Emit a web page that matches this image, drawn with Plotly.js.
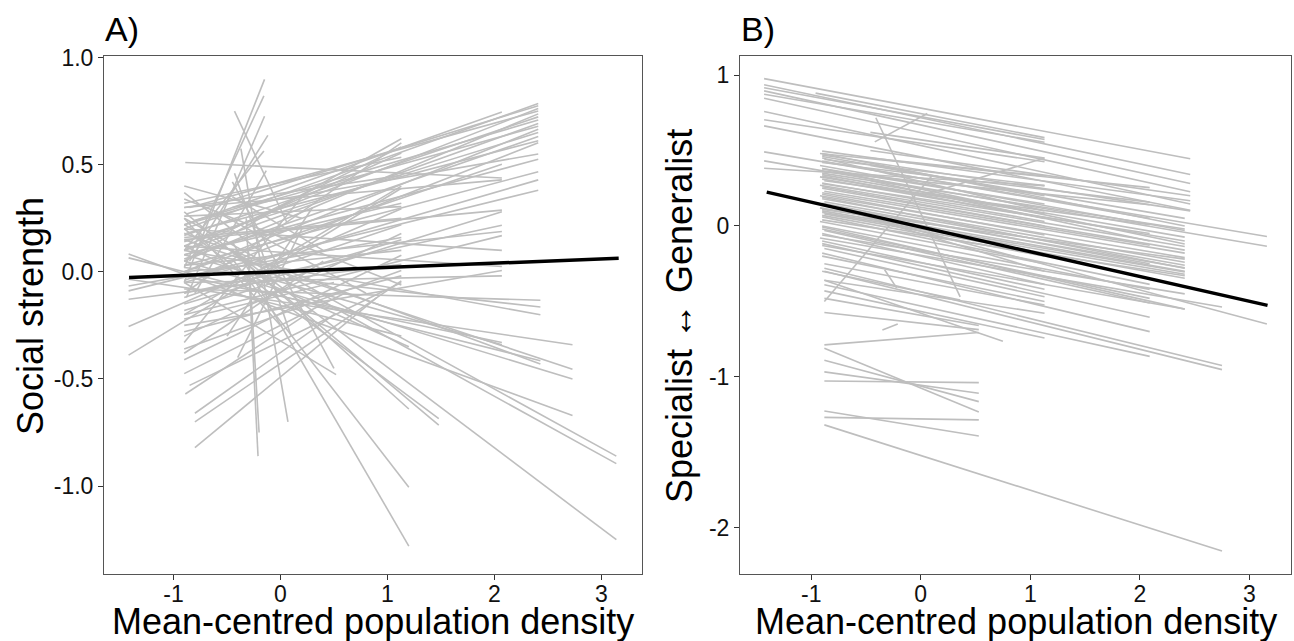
<!DOCTYPE html>
<html>
<head>
<meta charset="utf-8">
<script src="https://cdn.plot.ly/plotly-3.0.1.min.js"></script>
<style>html,body{margin:0;padding:0;background:#fff;}#chart{width:1294px;height:641px;}</style>
</head>
<body>
<div id="chart"></div>
<script>
// ---------- Panel A: individual slopes (start x, start y, end x, end y) ----------
const aX0 = [-0.90,-0.88,-0.90,-0.85,-0.90,-0.90,-0.80,-0.90,-0.90,-0.90,-0.90,-0.90,-0.88,-0.90,-0.90,-0.90,-0.90,-1.42,
  -0.90,-0.89,-0.90,-0.90,-0.90,-0.90,-0.90,-0.90,-0.90,-0.90,-0.90,-0.90,-0.90,
  -0.90,-0.90,-0.90,-1.42,-0.90,-1.42,-0.90,-0.90,-1.42,-0.90,-0.90,-0.45,
  -0.90,-0.90,-0.45,-0.90,-0.90,-0.90,-1.42,-0.90,-1.42,-0.90,-1.42,-0.90,-0.90,-1.42,-0.90,-0.90,-0.80,-0.90,
  -0.45,-0.45,-0.45,-0.90,-0.90,-0.90,-0.37,
  -0.90,-0.90,-0.88,-0.85,-0.90,-0.80,
  -0.43,-0.43,-0.32,-0.30,
  -0.80,-0.80,-0.89,-0.85,-0.90,
  -0.45,-0.50,-0.90,-0.90,-0.45,-0.90,-0.40,
  -0.90,-0.90,-0.90,-0.90,-0.90,-0.90,-0.90,-0.90,-0.45,-0.90,-0.60,-0.90,-0.45,-0.90];
const aY0 = [0.20,0.27,0.12,0.30,0.05,0.17,0.24,0.10,0.22,0.00,0.14,0.06,0.18,-0.04,0.08,0.03,-0.05,-0.089,
  0.22,0.51,0.00,0.30,0.15,-0.10,0.03,-0.20,0.12,-0.25,-0.05,-0.02,0.08,
  -0.08,0.02,0.10,0.065,0.18,-0.035,0.15,0.05,0.083,0.25,0.22,0.10,
  0.05,-0.10,0.20,0.10,0.32,-0.20,-0.389,0.26,-0.255,-0.30,-0.066,-0.15,-0.41,-0.128,-0.36,-0.28,-0.70,0.34,
  0.10,0.06,0.14,0.20,0.28,-0.05,0.575,
  -0.05,0.02,-0.12,0.05,0.10,-0.10,
  0.75,0.46,0.25,0.10,
  -0.82,-0.66,-0.57,-0.53,-0.475,
  0.35,-0.30,0.25,-0.33,0.42,0.37,-0.40,
  0.30,0.16,0.08,-0.12,0.00,-0.18,0.20,-0.22,-0.10,0.12,0.28,-0.38,0.30,0.40];
const aX1 = [2.41,2.41,2.41,2.41,2.41,2.41,2.41,2.41,2.41,2.41,2.41,2.41,2.41,2.41,2.41,2.41,2.41,2.41,
  2.07,2.07,2.07,2.07,2.07,2.07,2.07,2.07,2.07,2.07,2.07,2.07,2.07,
  2.43,2.43,2.43,2.43,2.43,2.73,2.73,2.73,2.73,3.14,3.14,3.14,
  1.13,1.13,1.13,1.13,1.13,1.13,1.13,1.13,1.13,1.13,1.13,1.13,1.13,1.13,1.13,1.13,1.13,1.13,
  1.20,1.20,1.20,1.48,1.48,0.52,0.07,
  -0.149,-0.155,-0.149,-0.118,-0.155,-0.133,
  0.06,0.10,-0.21,-0.20,
  0.90,0.50,0.30,1.13,0.60,
  0.40,0.30,0.00,0.20,0.50,-0.20,0.20,
  1.13,1.13,1.13,1.13,1.13,2.07,2.07,0.50,1.13,1.20,0.80,0.40,2.41,0.20];
const aY1 = [0.785,0.775,0.762,0.750,0.737,0.723,0.708,0.692,0.679,0.665,0.650,0.631,0.612,0.602,0.525,0.467,0.429,0.381,
  0.746,0.438,0.502,0.429,0.288,0.217,0.188,0.169,0.025,0.006,-0.019,-0.33,-0.34,
  -0.133,-0.164,-0.20,-0.415,-0.43,-0.34,-0.455,-0.50,-0.67,-0.86,-0.895,-1.25,
  0.621,0.602,0.583,0.554,0.535,0.40,0.39,0.304,0.294,0.179,0.16,0.15,0.077,0.035,0.006,-0.019,-0.042,-0.062,
  -0.64,-1.005,-1.28,-0.685,-0.715,-0.48,-0.70,
  0.898,0.821,0.726,0.637,0.564,0.472,
  0.23,-0.30,-0.86,-0.75,
  -0.12,-0.20,-0.18,-0.05,-0.10,
  0.10,0.30,-0.25,0.35,-0.45,0.10,0.20,
  0.45,0.25,0.32,0.22,0.10,0.28,0.10,-0.05,-0.30,-0.35,-0.10,0.05,0.55,0.25];
// Panel A population-level fit
const aFitX = [-1.416, 3.162];
const aFitY = [-0.027, 0.063];

// ---------- Panel B: individual slopes ----------
const bX0 = [-1.43,-1.43,-1.43,-1.43,-1.43,-1.43,-1.43,-1.43,-1.43,-1.43,-1.43,-1.43,-0.96,-0.42,-0.41,-0.46,-0.88,-0.90,
  -0.90,-0.92,-0.90,-0.88,-0.90,-0.92,-0.90,-0.88,-0.90,-0.92,-0.90,-0.88,-0.90,-0.92,-0.90,-0.88,-0.90,-0.92,-0.90,-0.88,-0.90,-0.92,-0.90,-0.88,
  -0.90,-0.92,-0.90,-0.88,-0.90,-0.92,-0.90,-0.88,-0.90,-0.88,-0.88,-0.88,-0.88,-0.88,-0.88,-0.88,-0.88,-0.88,
  -0.46,-0.46,-0.46,0.00,-0.35,-0.33,-0.90,
  -0.90,-0.90,-0.90,-0.90,-0.90,-0.90,-0.90,-0.90,-0.90,-0.90,-0.90,-0.90,-0.90,-0.90,-0.90,-0.90,
  -0.88,-0.88,-0.88,-0.88,-0.88,-0.88,-0.88,-0.88,
  -0.90,-0.90,-0.90,-0.90,-0.90,-0.90,-0.46,-0.46];
const bY0 = [0.976,0.935,0.916,0.895,0.873,0.846,0.758,0.704,0.663,0.491,0.431,0.382,0.88,0.557,0.717,0.62,-0.50,0.14,
  0.496,0.48,0.46,0.44,0.42,0.40,0.38,0.36,0.34,0.325,0.31,0.30,0.285,0.27,0.25,0.23,0.21,0.20,0.18,0.16,0.137,0.12,0.10,0.08,
  0.06,0.03,-0.007,-0.03,-0.05,-0.08,-0.117,-0.15,-0.18,-0.25,-0.28,-0.30,-0.36,-0.39,-0.43,-0.48,-0.573,-0.36,
  0.40,0.30,0.05,0.20,-0.69,-0.29,-0.30,
  0.47,0.43,0.35,0.28,0.22,0.15,0.09,0.04,0.00,-0.06,-0.10,-0.13,-0.20,0.26,0.38,0.45,
  -0.788,-0.81,-0.89,-0.967,-1.027,-1.226,-1.268,-1.318,
  0.48,0.33,0.19,0.11,0.07,-0.02,0.50,0.45];
const bX1 = [2.46,2.46,1.13,2.46,1.13,2.46,2.46,1.13,2.46,3.16,3.16,1.13,1.13,0.06,0.36,1.13,0.10,3.16,
  2.46,2.09,2.41,1.13,2.09,2.41,1.13,2.09,2.41,1.13,2.41,2.09,1.13,2.41,2.41,2.09,1.13,2.41,2.41,2.41,2.41,2.41,2.41,2.41,
  2.09,1.13,2.41,2.09,1.13,2.75,2.09,1.13,2.09,1.13,2.75,2.75,1.13,2.09,1.13,0.53,0.53,0.75,
  1.13,2.09,1.13,1.13,-0.21,-0.22,0.36,
  2.46,2.09,2.41,2.09,2.41,2.09,2.41,2.41,2.09,2.41,1.13,2.41,1.13,1.13,2.41,1.13,
  0.53,0.53,0.53,0.53,0.53,0.53,0.53,2.75,
  2.41,1.13,2.41,2.41,1.13,2.09,2.46,1.13];
const bY1 = [0.445,0.341,0.573,0.281,0.554,0.226,0.145,0.425,0.104,-0.07,-0.135,0.267,0.585,0.745,-0.47,0.45,0.33,-0.65,
  0.167,0.254,0.05,0.267,0.158,-0.03,0.145,0.14,-0.074,0.08,-0.10,0.008,0.03,-0.136,-0.16,-0.128,-0.06,-0.21,-0.24,-0.26,-0.278,-0.30,-0.305,-0.346,
  -0.387,-0.25,-0.551,-0.51,-0.387,-0.537,-0.605,-0.469,-0.70,-0.524,-0.924,-0.952,-0.578,-0.864,-0.742,-0.66,-0.687,-0.764,
  0.20,-0.10,-0.30,0.45,-0.65,-0.41,-0.49,
  0.10,0.05,-0.02,-0.05,-0.18,-0.25,-0.32,-0.33,-0.42,-0.45,-0.42,-0.55,-0.50,0.00,-0.12,0.10,
  -0.706,-1.232,-1.164,-1.109,-1.038,-1.392,-1.285,-2.154,
  0.00,0.05,-0.28,-0.22,-0.20,-0.48,0.20,0.33];
// Panel B population-level fit
const bFitX = [-1.406, 3.166];
const bFitY = [0.224, -0.526];

// ---------- Ticks and labels ----------
const xTickVals = [-1, 0, 1, 2, 3];
const xTickText = ['-1', '0', '1', '2', '3'];
const aYTickVals = [1, 0.5, 0, -0.5, -1];
const aYTickText = ['1.0', '0.5', '0.0', '-0.5', '-1.0'];
const bYTickVals = [1, 0, -1, -2];
const bYTickText = ['1', '0', '-1', '-2'];
const panelLabels = ['A)', 'B)'];
const xTitle = 'Mean-centred population density';
const aYTitle = 'Social strength';
const bYTitle = 'Specialist \u2194 Generalist';

function segments(x0, y0, x1, y1) {
  const xs = [], ys = [];
  for (let i = 0; i < x0.length; i++) {
    xs.push(x0[i], x1[i], null);
    ys.push(y0[i], y1[i], null);
  }
  return {xs, ys};
}

const FONT = 'Liberation Sans, Arial, Helvetica, sans-serif';
const W = 1294, H = 641, MT = 56, MB = 67;
const PH = H - MT - MB;
function px(x) { return x / W; }
function py(y) { return (H - MB - y) / PH; }

const sa = segments(aX0, aY0, aX1, aY1);
const sb = segments(bX0, bY0, bX1, bY1);
const grey = {color: '#bebebe', width: 1.6};

const traces = [
  {x: sa.xs, y: sa.ys, type: 'scatter', mode: 'lines', line: grey, xaxis: 'x', yaxis: 'y', hoverinfo: 'skip', connectgaps: false},
  {x: aFitX, y: aFitY, type: 'scatter', mode: 'lines', line: {color: '#000', width: 3.5}, xaxis: 'x', yaxis: 'y'},
  {x: sb.xs, y: sb.ys, type: 'scatter', mode: 'lines', line: grey, xaxis: 'x2', yaxis: 'y2', hoverinfo: 'skip', connectgaps: false},
  {x: bFitX, y: bFitY, type: 'scatter', mode: 'lines', line: {color: '#000', width: 3.5}, xaxis: 'x2', yaxis: 'y2'}
];

const axisBase = {
  showgrid: false, zeroline: false, showline: true, mirror: true,
  linecolor: '#555', linewidth: 1,
  ticks: 'outside', ticklen: 5, tickwidth: 1, tickcolor: '#333',
  tickfont: {family: FONT, size: 23, color: '#111'},
  tickmode: 'array', fixedrange: true
};

const titleFont = {family: FONT, size: 36, color: '#000'};

const layout = {
  width: W, height: H,
  margin: {l: 0, r: 0, t: MT, b: MB, pad: 0},
  paper_bgcolor: '#fff', plot_bgcolor: '#fff',
  showlegend: false,
  xaxis: Object.assign({}, axisBase, {domain: [px(104), px(642)], range: [-1.65, 3.38], tickvals: xTickVals, ticktext: xTickText, anchor: 'y', ticklabelstandoff: -6}),
  yaxis: Object.assign({}, axisBase, {domain: [0, 1], range: [-1.41, 1.007], tickvals: aYTickVals, ticktext: aYTickText, anchor: 'x'}),
  xaxis2: Object.assign({}, axisBase, {domain: [px(740), px(1291)], range: [-1.65, 3.38], tickvals: xTickVals, ticktext: xTickText, anchor: 'y2', ticklabelstandoff: -6}),
  yaxis2: Object.assign({}, axisBase, {domain: [0, 1], range: [-2.306, 1.126], tickvals: bYTickVals, ticktext: bYTickText, anchor: 'x2'}),
  annotations: [
    {text: panelLabels[0], xref: 'paper', yref: 'paper', x: px(103), y: py(29), xanchor: 'left', yanchor: 'middle', showarrow: false, font: {family: FONT, size: 34, color: '#000'}},
    {text: panelLabels[1], xref: 'paper', yref: 'paper', x: px(739), y: py(29), xanchor: 'left', yanchor: 'middle', showarrow: false, font: {family: FONT, size: 34, color: '#000'}},
    {text: xTitle, xref: 'paper', yref: 'paper', x: px(373), y: py(621), xanchor: 'center', yanchor: 'middle', showarrow: false, font: titleFont},
    {text: xTitle, xref: 'paper', yref: 'paper', x: px(1016), y: py(621), xanchor: 'center', yanchor: 'middle', showarrow: false, font: titleFont},
    {text: aYTitle, xref: 'paper', yref: 'paper', x: px(30), y: py(316), xanchor: 'center', yanchor: 'middle', textangle: -90, showarrow: false, font: titleFont},
    {text: bYTitle, xref: 'paper', yref: 'paper', x: px(679), y: py(316), xanchor: 'center', yanchor: 'middle', textangle: -90, showarrow: false, font: titleFont}
  ]
};

Plotly.newPlot('chart', traces, layout, {displayModeBar: false, staticPlot: true});
</script>
</body>
</html>
